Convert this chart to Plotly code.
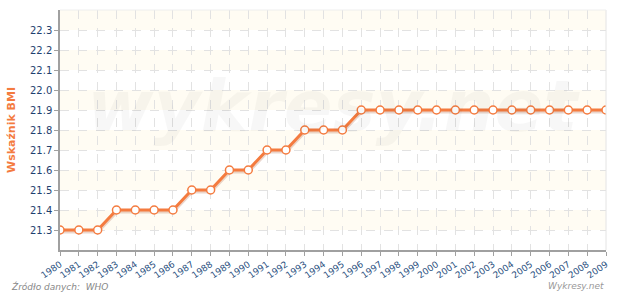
import plotly.graph_objects as go

years = [str(y) for y in range(1980, 2010)]
bmi = [21.3, 21.3, 21.3, 21.4, 21.4, 21.4, 21.4, 21.5, 21.5, 21.6,
       21.6, 21.7, 21.7, 21.8, 21.8, 21.8, 21.9, 21.9, 21.9, 21.9,
       21.9, 21.9, 21.9, 21.9, 21.9, 21.9, 21.9, 21.9, 21.9, 21.9]
y_ticks = [21.3, 21.4, 21.5, 21.6, 21.7, 21.8, 21.9, 22.0, 22.1, 22.2, 22.3]
band_starts = [21.3, 21.5, 21.7, 21.9, 22.1, 22.3]

fig = go.Figure()
fig.add_trace(go.Scatter(x=years, y=[v - 0.008 for v in bmi], mode="lines",
                         line=dict(color="rgba(190,120,90,0.3)", width=4),
                         hoverinfo="skip", showlegend=False))
fig.add_trace(go.Scatter(x=years, y=bmi, mode="lines+markers",
                         line=dict(color="#f47b3f", width=3),
                         marker=dict(symbol="circle", size=8, color="white",
                                     line=dict(color="#f47b3f", width=1.5)),
                         showlegend=False))

shapes = []
for b in band_starts:
    shapes.append(dict(type="rect", xref="paper", yref="y", x0=0, x1=1,
                       y0=b, y1=round(b + 0.1, 2), fillcolor="#fffcf3",
                       line=dict(width=0), layer="below"))
shapes.append(dict(type="line", xref="paper", yref="paper", x0=1, x1=1, y0=0, y1=1,
                   line=dict(color="#e4e4e4", width=1)))
shapes.append(dict(type="line", xref="paper", yref="paper", x0=0, x1=1, y0=1, y1=1,
                   line=dict(color="#eeeeee", width=1)))

fig.update_layout(
    width=620, height=292,
    margin=dict(l=60, r=10, t=10, b=42),
    paper_bgcolor="white", plot_bgcolor="white",
    font=dict(family="DejaVu Sans", size=10, color="#1f3f6f"),
    shapes=shapes,
    xaxis=dict(type="category", range=[0, 29], showgrid=True,
               gridcolor="#e2e2e2", griddash="dash", gridwidth=1,
               showline=True, linecolor="#a0a0a0", linewidth=1.5,
               ticks="outside", ticklen=4, tickcolor="#a0a0a0",
               tickangle=-35, tickfont=dict(size=9, color="#2a5080")),
    yaxis=dict(range=[21.2, 22.4], tickvals=y_ticks,
               ticktext=[f"{v:.1f}" for v in y_ticks],
               showgrid=True, gridcolor="#e2e2e2", griddash="dash", gridwidth=1,
               showline=True, linecolor="#a0a0a0", linewidth=1.5,
               ticks="outside", ticklen=4, tickcolor="#a0a0a0",
               zeroline=False,
               tickfont=dict(size=10, color="#1f3f6f"),
               title=dict(text="<b>Wskaźnik BMI</b>", standoff=12,
                          font=dict(size=11, color="#f47b3f"))),
    annotations=[
        dict(text="<b><i>wykresy.net</i></b>", xref="paper", yref="paper",
             x=0.5, y=0.6, showarrow=False,
             font=dict(size=72, color="rgba(0,0,0,0.03)", family="DejaVu Sans")),
        dict(text="<i>Źródło danych:  WHO</i>", xref="paper", yref="paper",
             x=-0.093, y=-0.152, xanchor="left", yanchor="middle", showarrow=False,
             font=dict(size=9, color="#888888")),
        dict(text="<i>Wykresy.net</i>", xref="paper", yref="paper",
             x=1.0, y=-0.152, xanchor="right", yanchor="middle", showarrow=False,
             font=dict(size=9, color="#999999")),
    ],
)
fig.write_html("out.html")
